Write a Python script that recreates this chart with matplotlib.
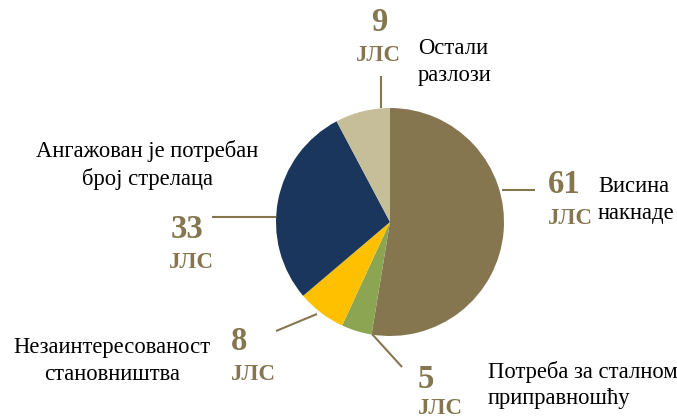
import matplotlib.pyplot as plt

# Podaci
vrednosti = [61, 5, 8, 33, 9]
brojevi = ['61', '5', '8', '33', '9']
jedinica = 'ЈЛС'
opisi = ['Висина\nнакнаде', 'Потреба за сталном\nприправношћу',
         'Незаинтересованост\nстановништва', 'Ангажован је потребан\nброј стрелаца',
         'Остали\nразлози']
boje = ['#857650', '#8BA552', '#FFC000', '#1B365D', '#C6BE98']
zlatna = '#857650'

W, H = 677, 419
fig = plt.figure(figsize=(W / 100, H / 100), dpi=100)
ax = fig.add_axes([0, 0, 1, 1])

def py(y):
    # piksel od vrha -> koordinata od dna
    return H - y

ax.pie(vrednosti, colors=boje, startangle=90, counterclock=False,
       center=(390, py(222)), radius=114, frame=True,
       wedgeprops={'linewidth': 0})

ax.set_xlim(0, W)
ax.set_ylim(0, H)
ax.set_aspect('equal')
ax.axis('off')

serif = 'Liberation Serif'
broj_kw = dict(fontfamily=serif, fontweight='bold', color=zlatna, fontsize=23.5,
               ha='center', va='center')
jls_kw = dict(fontfamily=serif, fontweight='bold', color=zlatna, fontsize=16.5,
              ha='center', va='center')
opis_kw = dict(fontfamily=serif, color='black', fontsize=16.3, va='center',
               linespacing=1.35)

# linije
linije = [
    ((502, 535), (190, 190)),
    ((372, 402), (334, 367)),
    ((317, 276), (314, 331)),
    ((276, 212), (217, 217)),
    ((381, 381), (108, 76)),
]
for xs, ys in linije:
    ax.plot(xs, [py(y) for y in ys], color=zlatna, lw=1.5, solid_capstyle='butt')

# brojevi i ЈЛС
poz_broj = [(564, 184), (426, 379), (239, 341), (187, 229), (379, 22)]
poz_jls = [(570, 218), (440, 409), (253, 375), (191, 263), (378, 55)]
for b, (x, y), (xj, yj) in zip(brojevi, poz_broj, poz_jls):
    ax.text(x, py(y), b, **broj_kw)
    ax.text(xj, py(yj), jedinica, **jls_kw)

# opisi
ax.text(598, py(200), opisi[0], ha='left', **opis_kw)
ax.text(488, py(385), opisi[1], ha='left', **opis_kw)
ax.text(112, py(361), opisi[2], ha='center', multialignment='center', **opis_kw)
ax.text(147, py(165), opisi[3], ha='center', multialignment='center', **opis_kw)
ax.text(418, py(62), opisi[4], ha='left', **opis_kw)

fig.savefig('out.png', dpi=100, facecolor='white')
